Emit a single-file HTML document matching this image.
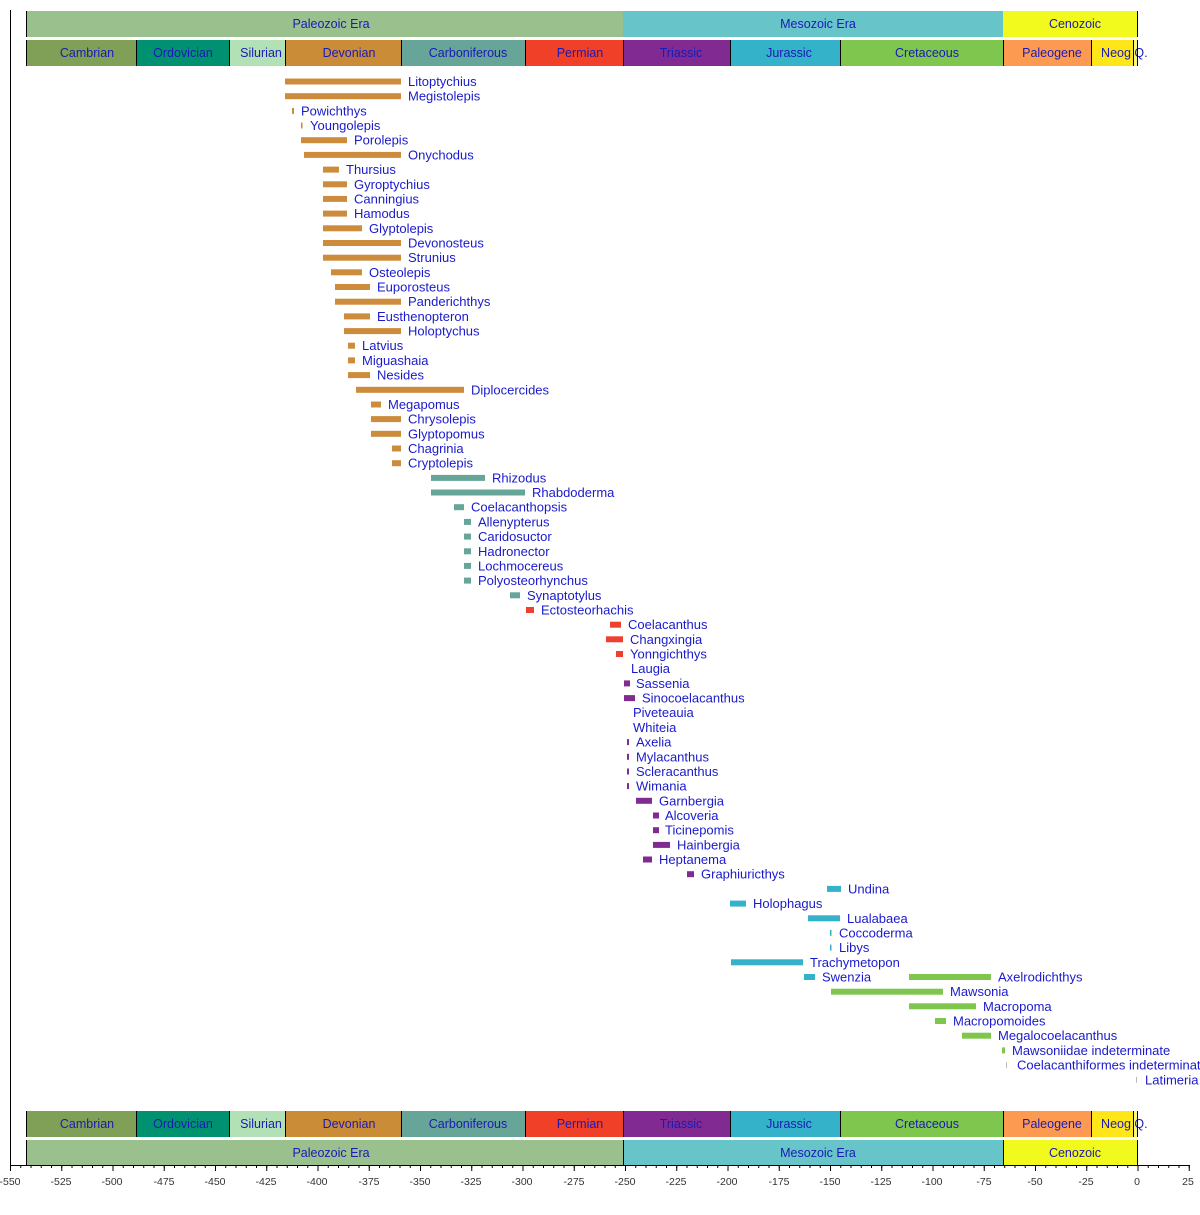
<!DOCTYPE html>
<html><head><meta charset="utf-8"><style>
html,body{margin:0;padding:0;background:#fff;width:1200px;height:1215px;overflow:hidden}
svg{display:block;font-family:"Liberation Sans",Arial,sans-serif}
.h{font-size:12.5px;fill:#1a1ab4;text-anchor:middle}
.l{font-size:13px;fill:#1a1acc}
.a{font-size:10.5px;fill:#333;text-anchor:middle}
.d{fill:#CC8C3C}.c{fill:#67A599}.p{fill:#EE4030}.t{fill:#812B92}.j{fill:#34B2C9}.k{fill:#7FC64E}
</style></head><body>
<svg width="1200" height="1215" viewBox="0 0 1200 1215" xmlns="http://www.w3.org/2000/svg">
<defs>
<pattern id="mn" x="10" y="0" width="10.25" height="10" patternUnits="userSpaceOnUse"><rect x="0" y="0" width="1" height="10" fill="#000"/></pattern>
<pattern id="mj" x="10" y="0" width="51.25" height="10" patternUnits="userSpaceOnUse"><rect x="0" y="0" width="1" height="10" fill="#000"/></pattern>
</defs>
<line x1="10.5" y1="10" x2="10.5" y2="1166" stroke="#000"/>
<g>
<rect x="26" y="11" width="597" height="26" fill="#99C08D"/><text class="h" x="331" y="28">Paleozoic Era</text>
<rect x="623" y="11" width="380" height="26" fill="#67C5CA"/><text class="h" x="818" y="28">Mesozoic Era</text>
<rect x="1003" y="11" width="134" height="26" fill="#F2F91D"/><text class="h" x="1075" y="28">Cenozoic</text>
<rect x="26" y="40" width="110" height="26" fill="#7FA056"/><text class="h" x="87" y="57">Cambrian</text>
<rect x="136" y="40" width="93" height="26" fill="#009270"/><text class="h" x="183" y="57">Ordovician</text>
<rect x="229" y="40" width="56" height="26" fill="#B3E1B6"/><text class="h" x="261" y="57">Silurian</text>
<rect x="285" y="40" width="116" height="26" fill="#CB8C37"/><text class="h" x="349" y="57">Devonian</text>
<rect x="401" y="40" width="124" height="26" fill="#67A599"/><text class="h" x="468" y="57">Carboniferous</text>
<rect x="525" y="40" width="98" height="26" fill="#F04028"/><text class="h" x="580" y="57">Permian</text>
<rect x="623" y="40" width="107" height="26" fill="#812B92"/><text class="h" x="681" y="57">Triassic</text>
<rect x="730" y="40" width="110" height="26" fill="#34B2C9"/><text class="h" x="789" y="57">Jurassic</text>
<rect x="840" y="40" width="163" height="26" fill="#7FC64E"/><text class="h" x="927" y="57">Cretaceous</text>
<rect x="1003" y="40" width="88" height="26" fill="#FD9A52"/><text class="h" x="1052" y="57">Paleogene</text>
<rect x="1091" y="40" width="42" height="26" fill="#FFE619"/><text class="h" x="1116" y="57">Neog</text>
<rect x="1133" y="40" width="4" height="26" fill="#F9F97F"/><text class="h" x="1141" y="57">Q.</text>
<g stroke="#000" stroke-width="1"><line x1="26.5" y1="11" x2="26.5" y2="37"/><line x1="1137.5" y1="11" x2="1137.5" y2="37"/>
<line x1="26.5" y1="40" x2="26.5" y2="66"/><line x1="136.5" y1="40" x2="136.5" y2="66"/><line x1="229.5" y1="40" x2="229.5" y2="66"/><line x1="285.5" y1="40" x2="285.5" y2="66"/><line x1="401.5" y1="40" x2="401.5" y2="66"/><line x1="525.5" y1="40" x2="525.5" y2="66"/><line x1="623.5" y1="40" x2="623.5" y2="66"/><line x1="730.5" y1="40" x2="730.5" y2="66"/><line x1="840.5" y1="40" x2="840.5" y2="66"/><line x1="1003.5" y1="40" x2="1003.5" y2="66"/><line x1="1091.5" y1="40" x2="1091.5" y2="66"/><line x1="1133.5" y1="40" x2="1133.5" y2="66"/><line x1="1137.5" y1="40" x2="1137.5" y2="66"/></g>
</g>
<g>
<rect x="26" y="1111" width="110" height="26" fill="#7FA056"/><text class="h" x="87" y="1128">Cambrian</text>
<rect x="136" y="1111" width="93" height="26" fill="#009270"/><text class="h" x="183" y="1128">Ordovician</text>
<rect x="229" y="1111" width="56" height="26" fill="#B3E1B6"/><text class="h" x="261" y="1128">Silurian</text>
<rect x="285" y="1111" width="116" height="26" fill="#CB8C37"/><text class="h" x="349" y="1128">Devonian</text>
<rect x="401" y="1111" width="124" height="26" fill="#67A599"/><text class="h" x="468" y="1128">Carboniferous</text>
<rect x="525" y="1111" width="98" height="26" fill="#F04028"/><text class="h" x="580" y="1128">Permian</text>
<rect x="623" y="1111" width="107" height="26" fill="#812B92"/><text class="h" x="681" y="1128">Triassic</text>
<rect x="730" y="1111" width="110" height="26" fill="#34B2C9"/><text class="h" x="789" y="1128">Jurassic</text>
<rect x="840" y="1111" width="163" height="26" fill="#7FC64E"/><text class="h" x="927" y="1128">Cretaceous</text>
<rect x="1003" y="1111" width="88" height="26" fill="#FD9A52"/><text class="h" x="1052" y="1128">Paleogene</text>
<rect x="1091" y="1111" width="42" height="26" fill="#FFE619"/><text class="h" x="1116" y="1128">Neog</text>
<rect x="1133" y="1111" width="4" height="26" fill="#F9F97F"/><text class="h" x="1141" y="1128">Q.</text>
<rect x="26" y="1140" width="597" height="25" fill="#99C08D"/><text class="h" x="331" y="1157">Paleozoic Era</text>
<rect x="623" y="1140" width="380" height="25" fill="#67C5CA"/><text class="h" x="818" y="1157">Mesozoic Era</text>
<rect x="1003" y="1140" width="134" height="25" fill="#F2F91D"/><text class="h" x="1075" y="1157">Cenozoic</text>
<g stroke="#000" stroke-width="1">
<line x1="26.5" y1="1111" x2="26.5" y2="1137"/><line x1="136.5" y1="1111" x2="136.5" y2="1137"/><line x1="229.5" y1="1111" x2="229.5" y2="1137"/><line x1="285.5" y1="1111" x2="285.5" y2="1137"/><line x1="401.5" y1="1111" x2="401.5" y2="1137"/><line x1="525.5" y1="1111" x2="525.5" y2="1137"/><line x1="623.5" y1="1111" x2="623.5" y2="1137"/><line x1="730.5" y1="1111" x2="730.5" y2="1137"/><line x1="840.5" y1="1111" x2="840.5" y2="1137"/><line x1="1003.5" y1="1111" x2="1003.5" y2="1137"/><line x1="1091.5" y1="1111" x2="1091.5" y2="1137"/><line x1="1133.5" y1="1111" x2="1133.5" y2="1137"/><line x1="1137.5" y1="1111" x2="1137.5" y2="1137"/>
<line x1="26.5" y1="1140" x2="26.5" y2="1165"/><line x1="623.5" y1="1140" x2="623.5" y2="1165"/><line x1="1003.5" y1="1140" x2="1003.5" y2="1165"/><line x1="1137.5" y1="1140" x2="1137.5" y2="1165"/>
</g>
</g>
<line x1="10" y1="1165.5" x2="1190" y2="1165.5" stroke="#000"/>
<rect x="10" y="1165" width="1181" height="3" fill="url(#mn)"/>
<rect x="10" y="1165" width="1181" height="6" fill="url(#mj)"/>
<g class="a">
<text x="10" y="1185">-550</text><text x="61" y="1185">-525</text><text x="112" y="1185">-500</text><text x="164" y="1185">-475</text><text x="215" y="1185">-450</text><text x="266" y="1185">-425</text><text x="317" y="1185">-400</text><text x="369" y="1185">-375</text><text x="420" y="1185">-350</text><text x="471" y="1185">-325</text><text x="522" y="1185">-300</text><text x="574" y="1185">-275</text><text x="625" y="1185">-250</text><text x="676" y="1185">-225</text><text x="727" y="1185">-200</text><text x="779" y="1185">-175</text><text x="830" y="1185">-150</text><text x="881" y="1185">-125</text><text x="932" y="1185">-100</text><text x="984" y="1185">-75</text><text x="1035" y="1185">-50</text><text x="1086" y="1185">-25</text><text x="1137" y="1185">0</text><text x="1188" y="1185">25</text>
</g>
<g>
<rect class="d" x="285" y="78.5" width="116" height="6"/><text class="l" x="408" y="86">Litoptychius</text>
<rect class="d" x="285" y="93.2" width="116" height="6"/><text class="l" x="408" y="100.7">Megistolepis</text>
<rect class="d" x="292" y="107.9" width="2" height="6"/><text class="l" x="301" y="115.4">Powichthys</text>
<rect class="d" x="301" y="122.5" width="1.5" height="6"/><text class="l" x="310" y="130">Youngolepis</text>
<rect class="d" x="301" y="137.2" width="46" height="6"/><text class="l" x="354" y="144.7">Porolepis</text>
<rect class="d" x="304" y="151.9" width="97" height="6"/><text class="l" x="408" y="159.4">Onychodus</text>
<rect class="d" x="323" y="166.6" width="16" height="6"/><text class="l" x="346" y="174.1">Thursius</text>
<rect class="d" x="323" y="181.3" width="24" height="6"/><text class="l" x="354" y="188.8">Gyroptychius</text>
<rect class="d" x="323" y="195.9" width="24" height="6"/><text class="l" x="354" y="203.4">Canningius</text>
<rect class="d" x="323" y="210.6" width="24" height="6"/><text class="l" x="354" y="218.1">Hamodus</text>
<rect class="d" x="323" y="225.3" width="39" height="6"/><text class="l" x="369" y="232.8">Glyptolepis</text>
<rect class="d" x="323" y="240" width="78" height="6"/><text class="l" x="408" y="247.5">Devonosteus</text>
<rect class="d" x="323" y="254.7" width="78" height="6"/><text class="l" x="408" y="262.2">Strunius</text>
<rect class="d" x="331" y="269.3" width="31" height="6"/><text class="l" x="369" y="276.8">Osteolepis</text>
<rect class="d" x="335" y="284" width="35" height="6"/><text class="l" x="377" y="291.5">Euporosteus</text>
<rect class="d" x="335" y="298.7" width="66" height="6"/><text class="l" x="408" y="306.2">Panderichthys</text>
<rect class="d" x="344" y="313.4" width="26" height="6"/><text class="l" x="377" y="320.9">Eusthenopteron</text>
<rect class="d" x="344" y="328.1" width="57" height="6"/><text class="l" x="408" y="335.6">Holoptychus</text>
<rect class="d" x="348" y="342.7" width="7" height="6"/><text class="l" x="362" y="350.2">Latvius</text>
<rect class="d" x="348" y="357.4" width="7" height="6"/><text class="l" x="362" y="364.9">Miguashaia</text>
<rect class="d" x="348" y="372.1" width="22" height="6"/><text class="l" x="377" y="379.6">Nesides</text>
<rect class="d" x="356" y="386.8" width="108" height="6"/><text class="l" x="471" y="394.3">Diplocercides</text>
<rect class="d" x="371" y="401.5" width="10" height="6"/><text class="l" x="388" y="409">Megapomus</text>
<rect class="d" x="371" y="416.1" width="30" height="6"/><text class="l" x="408" y="423.6">Chrysolepis</text>
<rect class="d" x="371" y="430.8" width="30" height="6"/><text class="l" x="408" y="438.3">Glyptopomus</text>
<rect class="d" x="392" y="445.5" width="9" height="6"/><text class="l" x="408" y="453">Chagrinia</text>
<rect class="d" x="392" y="460.2" width="9" height="6"/><text class="l" x="408" y="467.7">Cryptolepis</text>
<rect class="c" x="431" y="474.9" width="54" height="6"/><text class="l" x="492" y="482.4">Rhizodus</text>
<rect class="c" x="431" y="489.5" width="94" height="6"/><text class="l" x="532" y="497">Rhabdoderma</text>
<rect class="c" x="454" y="504.2" width="10" height="6"/><text class="l" x="471" y="511.7">Coelacanthopsis</text>
<rect class="c" x="464" y="518.9" width="7" height="6"/><text class="l" x="478" y="526.4">Allenypterus</text>
<rect class="c" x="464" y="533.6" width="7" height="6"/><text class="l" x="478" y="541.1">Caridosuctor</text>
<rect class="c" x="464" y="548.3" width="7" height="6"/><text class="l" x="478" y="555.8">Hadronector</text>
<rect class="c" x="464" y="562.9" width="7" height="6"/><text class="l" x="478" y="570.4">Lochmocereus</text>
<rect class="c" x="464" y="577.6" width="7" height="6"/><text class="l" x="478" y="585.1">Polyosteorhynchus</text>
<rect class="c" x="510" y="592.3" width="10" height="6"/><text class="l" x="527" y="599.8">Synaptotylus</text>
<rect class="p" x="526" y="607" width="8" height="6"/><text class="l" x="541" y="614.5">Ectosteorhachis</text>
<rect class="p" x="610" y="621.7" width="11" height="6"/><text class="l" x="628" y="629.2">Coelacanthus</text>
<rect class="p" x="606" y="636.3" width="17" height="6"/><text class="l" x="630" y="643.8">Changxingia</text>
<rect class="p" x="616" y="651" width="7" height="6"/><text class="l" x="630" y="658.5">Yonngichthys</text>
<text class="l" x="631" y="673.2">Laugia</text>
<rect class="t" x="624" y="680.4" width="6" height="6"/><text class="l" x="636" y="687.9">Sassenia</text>
<rect class="t" x="624" y="695.1" width="11" height="6"/><text class="l" x="642" y="702.6">Sinocoelacanthus</text>
<text class="l" x="633" y="717.2">Piveteauia</text>
<text class="l" x="633" y="731.9">Whiteia</text>
<rect class="t" x="627" y="739.1" width="2" height="6"/><text class="l" x="636" y="746.6">Axelia</text>
<rect class="t" x="627" y="753.8" width="2" height="6"/><text class="l" x="636" y="761.3">Mylacanthus</text>
<rect class="t" x="627" y="768.5" width="2" height="6"/><text class="l" x="636" y="776">Scleracanthus</text>
<rect class="t" x="627" y="783.1" width="2" height="6"/><text class="l" x="636" y="790.6">Wimania</text>
<rect class="t" x="636" y="797.8" width="16" height="6"/><text class="l" x="659" y="805.3">Garnbergia</text>
<rect class="t" x="653" y="812.5" width="6" height="6"/><text class="l" x="665" y="820">Alcoveria</text>
<rect class="t" x="653" y="827.2" width="6" height="6"/><text class="l" x="665" y="834.7">Ticinepomis</text>
<rect class="t" x="653" y="841.9" width="17" height="6"/><text class="l" x="677" y="849.4">Hainbergia</text>
<rect class="t" x="643" y="856.5" width="9" height="6"/><text class="l" x="659" y="864">Heptanema</text>
<rect class="t" x="687" y="871.2" width="7" height="6"/><text class="l" x="701" y="878.7">Graphiuricthys</text>
<rect class="j" x="827" y="885.9" width="14" height="6"/><text class="l" x="848" y="893.4">Undina</text>
<rect class="j" x="730" y="900.6" width="16" height="6"/><text class="l" x="753" y="908.1">Holophagus</text>
<rect class="j" x="808" y="915.3" width="32" height="6"/><text class="l" x="847" y="922.8">Lualabaea</text>
<rect class="j" x="830" y="929.9" width="1.5" height="6"/><text class="l" x="839" y="937.4">Coccoderma</text>
<rect class="j" x="830" y="944.6" width="1.5" height="6"/><text class="l" x="839" y="952.1">Libys</text>
<rect class="j" x="731" y="959.3" width="72" height="6"/><text class="l" x="810" y="966.8">Trachymetopon</text>
<rect class="j" x="804" y="974" width="11" height="6"/><text class="l" x="822" y="981.5">Swenzia</text>
<rect class="k" x="909" y="974" width="82" height="6"/><text class="l" x="998" y="981.5">Axelrodichthys</text>
<rect class="k" x="831" y="988.7" width="112" height="6"/><text class="l" x="950" y="996.2">Mawsonia</text>
<rect class="k" x="909" y="1003.3" width="67" height="6"/><text class="l" x="983" y="1010.8">Macropoma</text>
<rect class="k" x="935" y="1018" width="11" height="6"/><text class="l" x="953" y="1025.5">Macropomoides</text>
<rect class="k" x="962" y="1032.7" width="29" height="6"/><text class="l" x="998" y="1040.2">Megalocoelacanthus</text>
<rect class="k" x="1002" y="1047.4" width="3" height="6"/><text class="l" x="1012" y="1054.9">Mawsoniidae indeterminate</text>
<rect x="1006" y="1062.1" width="1" height="6" fill="#bbb"/><text class="l" x="1017" y="1069.6">Coelacanthiformes indeterminate</text>
<rect x="1136" y="1076.8" width="1" height="6" fill="#bbb"/><text class="l" x="1145" y="1084.3">Latimeria</text>
</g>
</svg>
</body></html>
